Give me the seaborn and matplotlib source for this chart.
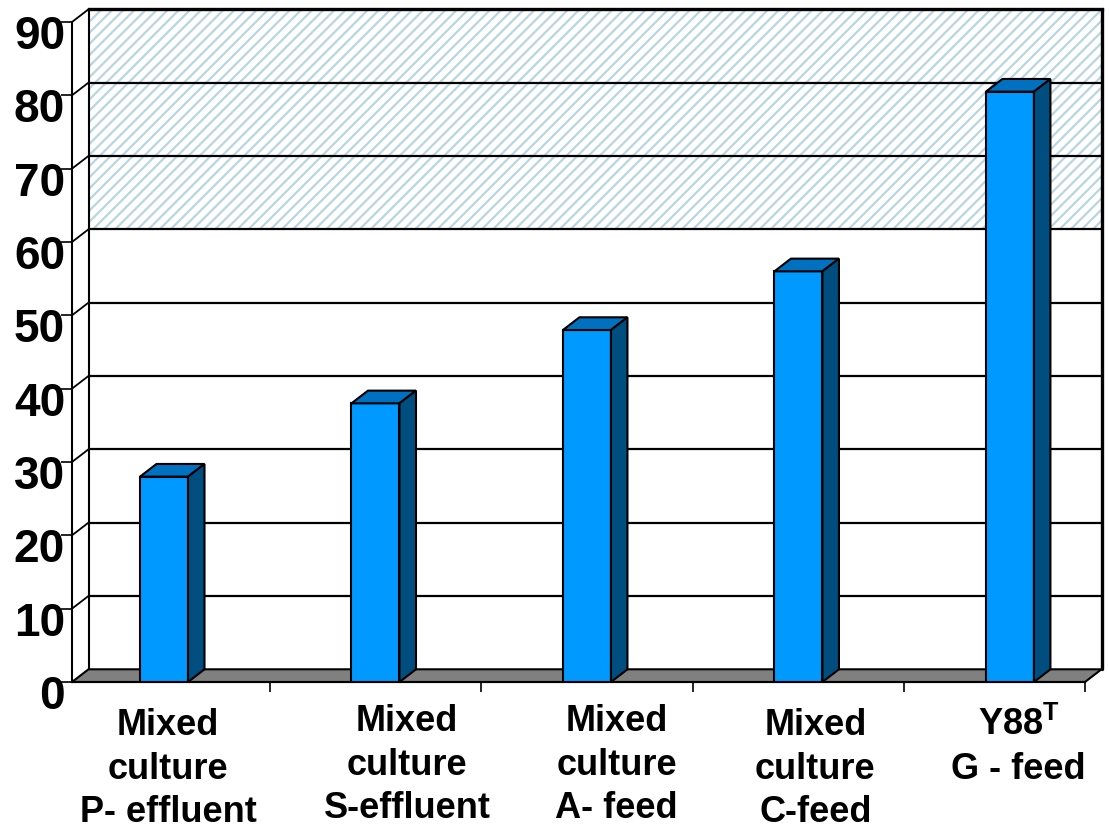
import matplotlib
matplotlib.use("Agg")
import matplotlib.pyplot as plt
import pandas as pd
import seaborn as sns
from matplotlib.patches import Polygon, Rectangle
from matplotlib.transforms import ScaledTranslation

# ---- data ----
categories = [
    "Mixed culture P- effluent",
    "Mixed culture S-effluent",
    "Mixed culture A- feed",
    "Mixed culture C-feed",
    "Y88T G - feed",
]
label_lines = [
    ["Mixed", "culture", "P- effluent"],
    ["Mixed", "culture", "S-effluent"],
    ["Mixed", "culture", "A- feed"],
    ["Mixed", "culture", "C-feed"],
    [r"Y88$^{\mathbf{T}}$", "G - feed"],
]
values = [28, 38, 48, 56, 80.5]
y_ticks = [0, 10, 20, 30, 40, 50, 60, 70, 80, 90]
band_low, band_high = 60, 90

# ---- style ----
sns.set_theme(style="white")
plt.rcParams["font.family"] = ["Liberation Sans", "DejaVu Sans"]
plt.rcParams["mathtext.fontset"] = "custom"
plt.rcParams["mathtext.rm"] = "Liberation Sans"
plt.rcParams["mathtext.bf"] = "Liberation Sans:bold"
plt.rcParams["hatch.linewidth"] = 1.6

FRONT = "#0099ff"
TOP = "#0070c0"
SIDE = "#004d80"
FLOOR = "#808080"
HATCH = "#b8d6e0"

W, H, DPI = 1109, 830, 100
fig = plt.figure(figsize=(W / DPI, H / DPI), dpi=DPI)
fig.patch.set_facecolor("white")

# front plane of the 3-D box
left_px, right_px, top_px, base_px = 72, 1085, 22, 682
ax = fig.add_axes([left_px / W, 1 - base_px / H,
                   (right_px - left_px) / W, (base_px - top_px) / H])
ax.set_facecolor("none")

df = pd.DataFrame({"group": categories, "value": values})
sns.barplot(data=df, x="group", y="value", ax=ax, width=0.227,
            color=FRONT, saturation=1, edgecolor="black", linewidth=1.5)
bars = list(ax.patches)

xl, xr = -0.435, 4.355
ymax = 90
ax.set_xlim(xl, xr)
ax.set_ylim(0, ymax)
ax.set_xlabel("")
ax.set_ylabel("")

# depth of the box in data units
px_x = (right_px - left_px) / (xr - xl)
px_y = (base_px - top_px) / ymax
dx = 16.5 / px_x
dy = 12.7 / px_y

# back wall: shaded band
ax.add_patch(Rectangle((xl + dx, band_low + dy), xr - xl, band_high - band_low,
                       facecolor="white", edgecolor=HATCH, hatch="///",
                       linewidth=0, zorder=0.3, clip_on=False))

# gridlines on back wall and left side wall
for v in y_ticks[1:-1]:
    ax.plot([xl + dx, xr + dx], [v + dy, v + dy], color="black", lw=1.6,
            zorder=0.6, clip_on=False, solid_capstyle="butt")
for v in y_ticks[1:]:
    ax.plot([xl, xl + dx], [v, v + dy], color="black", lw=1.3,
            zorder=0.6, clip_on=False)

# wall outlines
ax.plot([xl + dx, xl + dx], [dy, ymax + dy], color="black", lw=1.5,
        zorder=0.7, clip_on=False)
ax.plot([xr + dx, xr + dx], [dy, ymax + dy], color="black", lw=2.4,
        zorder=0.7, clip_on=False)
ax.plot([xl + dx, xr + dx], [ymax + dy, ymax + dy], color="black", lw=2.4,
        zorder=0.7, clip_on=False, solid_capstyle="projecting")

# floor
ax.add_patch(Polygon([(xl, 0), (xr, 0), (xr + dx, dy), (xl + dx, dy)],
                     closed=True, facecolor=FLOOR, edgecolor="black",
                     linewidth=1.5, zorder=1, clip_on=False))

# 3-D faces of each column
for b in bars:
    b.set_zorder(3)
    x0 = b.get_x()
    x1 = x0 + b.get_width()
    v = b.get_height()
    ax.add_patch(Polygon([(x0, v), (x0 + dx, v + dy), (x1 + dx, v + dy), (x1, v)],
                         closed=True, facecolor=TOP, edgecolor="black",
                         linewidth=1.5, zorder=3, clip_on=False))
    ax.add_patch(Polygon([(x1, 0), (x1 + dx, dy), (x1 + dx, v + dy), (x1, v)],
                         closed=True, facecolor=SIDE, edgecolor="black",
                         linewidth=1.5, zorder=3, clip_on=False))

# spines
for s in ["top", "right"]:
    ax.spines[s].set_visible(False)
for s in ["left", "bottom"]:
    ax.spines[s].set_color("black")
    ax.spines[s].set_linewidth(1.5)
    ax.spines[s].set_zorder(2)

# value axis
ax.set_yticks(y_ticks)
ax.set_yticklabels([str(t) for t in y_ticks], fontsize=33, fontweight="bold",
                   color="black")
ax.tick_params(axis="y", left=True, length=8, width=1.2, pad=-3,
               direction="out", color="black")
shift = ScaledTranslation(0, -10 / DPI, fig.dpi_scale_trans)
for lab in ax.get_yticklabels():
    lab.set_transform(lab.get_transform() + shift)

# category axis: ticks between groups, labels below
ax.set_xticks([0.5, 1.5, 2.5, 3.5, xr])
ax.set_xticklabels([""] * 5)
ax.tick_params(axis="x", bottom=True, length=7.5, width=1.2,
               direction="out", color="black")

label_shift = [0.02, 0.15, 0.14, 0.08, 0.04]
label_base = [735, 731, 731, 735, 735]
line_pitch = 43.5
for i, lines in enumerate(label_lines):
    for j, line in enumerate(lines):
        ax.annotate(line, xy=(i + label_shift[i], 0),
                    xycoords=("data", "axes fraction"),
                    xytext=(0, -(label_base[i] - base_px + j * line_pitch)),
                    textcoords="offset pixels", ha="center", va="baseline",
                    fontsize=26, fontweight="bold", color="black",
                    annotation_clip=False)

fig.savefig("out.png", dpi=DPI, facecolor="white")
